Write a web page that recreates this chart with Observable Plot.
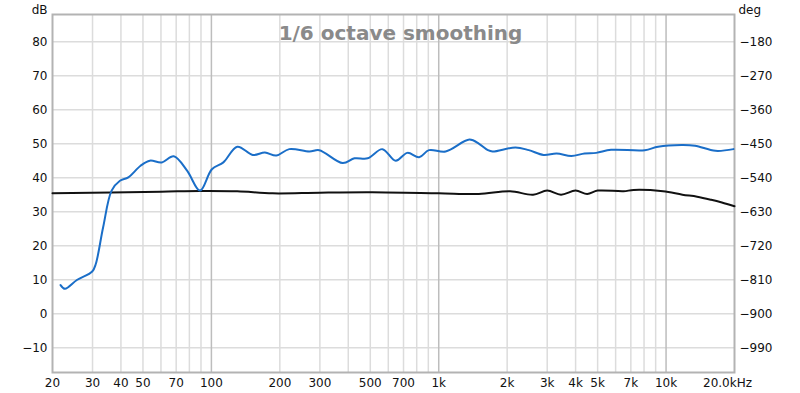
<!DOCTYPE html>
<html><head><meta charset="utf-8">
<script src="https://cdn.jsdelivr.net/npm/d3@7"></script>
<script src="https://cdn.jsdelivr.net/npm/@observablehq/plot@0.6"></script>
<style>body{margin:0;background:#fff} svg{display:block}</style>
</head><body><div id="chart"></div>
<script>
// Blue curve: SPL (dB) with 1/6 octave smoothing
const blueFreq = [21.7, 22.7, 25.6, 29.9, 31.0, 33.4, 36.4, 39.6, 43.1, 48.8, 53.6, 60.5, 68.3, 78.3, 89.1, 100.5, 112.9, 130, 152, 172, 193, 220, 270, 298, 378, 426, 487, 565, 647, 728, 820, 906, 1072, 1365, 1510, 1645, 1724, 2175, 2490, 2890, 3300, 3830, 4380, 4930, 5730, 8060, 9220, 11700, 13400, 16500, 19800];
const blueDb = [8.4, 7.3, 9.9, 12.4, 14.6, 25.4, 36.2, 39.1, 40.1, 43.5, 45.0, 44.5, 46.3, 42.0, 36.2, 42.5, 44.5, 49.1, 46.7, 47.4, 46.5, 48.4, 47.7, 48.1, 44.3, 45.7, 45.7, 48.4, 45.0, 47.3, 46.0, 48.1, 47.7, 51.2, 49.9, 48.1, 47.7, 48.9, 48.1, 46.7, 47.1, 46.4, 47.1, 47.3, 48.2, 48.1, 49.1, 49.6, 49.4, 47.9, 48.4];
// Black curve
const blackFreq = [20, 60, 89, 130, 186, 300, 510, 1000, 1500, 2060, 2600, 3000, 3450, 4000, 4500, 5000, 6500, 7200, 9700, 11800, 13700, 15800, 17600, 20000];
const blackDb = [35.4, 35.9, 36.1, 36.0, 35.4, 35.6, 35.7, 35.4, 35.2, 36.0, 35.0, 36.2, 35.0, 36.2, 35.2, 36.2, 36.0, 36.4, 36.0, 35.0, 34.4, 33.5, 32.7, 31.6];

// Axes
const xTicks = [20, 30, 40, 50, 70, 100, 200, 300, 500, 700, 1000, 2000, 3000, 4000, 5000, 7000, 10000];
const xTickLabels = ["20", "30", "40", "50", "70", "100", "200", "300", "500", "700", "1k", "2k", "3k", "4k", "5k", "7k", "10k"];
const xEndTick = [20000];
const xEndLabel = "20.0kHz";
const gridFreqs = [30, 40, 50, 60, 70, 80, 90, 200, 300, 400, 500, 600, 700, 800, 900, 2000, 3000, 4000, 5000, 6000, 7000, 8000, 9000];
const decadeFreqs = [100, 1000, 10000];
const yTicks = [-10, 0, 10, 20, 30, 40, 50, 60, 70, 80];
const yTickLabels = ["−10", "0", "10", "20", "30", "40", "50", "60", "70", "80"];
const degTickLabels = ["−990", "−900", "−810", "−720", "−630", "−540", "−450", "−360", "−270", "−180"];
const title = "1/6 octave smoothing";

const blue = blueFreq.map((f, i) => ({f, db: blueDb[i]}));
const black = blackFreq.map((f, i) => ({f, db: blackDb[i]}));
const xt = xTicks.map((t, i) => ({t, label: xTickLabels[i]}));
const yt = yTicks.map((t, i) => ({t, label: yTickLabels[i], deg: degTickLabels[i]}));

const plot = Plot.plot({
  width: 800, height: 393,
  marginLeft: 52, marginRight: 66, marginTop: 14, marginBottom: 21,
  style: {fontFamily: "DejaVu Sans", fontSize: "12px", background: "#fff", color: "#111"},
  x: {type: "log", domain: [20, 20000], axis: null},
  y: {domain: [-17.3, 88], axis: null},
  marks: [
    Plot.ruleX(gridFreqs, {stroke: "#dcdcdc", strokeWidth: 1.5}),
    Plot.ruleY(yTicks, {stroke: "#dcdcdc", strokeWidth: 1.5}),
    Plot.ruleX(decadeFreqs, {stroke: "#bdbdbd", strokeWidth: 1.5}),
    Plot.frame({stroke: "#b3b3b3", strokeWidth: 2}),
    Plot.text(xt, {x: "t", text: "label", frameAnchor: "bottom", dy: 11, lineAnchor: "middle", fill: "#111"}),
    Plot.text(xEndTick, {x: d => d, text: () => xEndLabel, frameAnchor: "bottom", dy: 11, dx: -7, lineAnchor: "middle", fill: "#111"}),
    Plot.text(yt, {y: "t", text: "label", frameAnchor: "left", dx: -5, textAnchor: "end", fill: "#111"}),
    Plot.text(yt, {y: "t", text: "deg", frameAnchor: "right", dx: 5, textAnchor: "start", fill: "#111"}),
    Plot.text(["dB"], {frameAnchor: "top-left", dx: -5, dy: -9, textAnchor: "end"}),
    Plot.text(["deg"], {frameAnchor: "top-right", dx: 4, dy: -9, textAnchor: "start"}),
    Plot.text([title], {frameAnchor: "top", dx: 7, dy: 11, fontSize: 20, fontWeight: "bold", fill: "#8a8a8a"}),
    Plot.line(black, {x: "f", y: "db", stroke: "#111", strokeWidth: 2, curve: "catmull-rom"}),
    Plot.line(blue, {x: "f", y: "db", stroke: "#1a6ec8", strokeWidth: 2, curve: "catmull-rom"})
  ]
});
document.getElementById("chart").appendChild(plot);
</script>
</body></html>
